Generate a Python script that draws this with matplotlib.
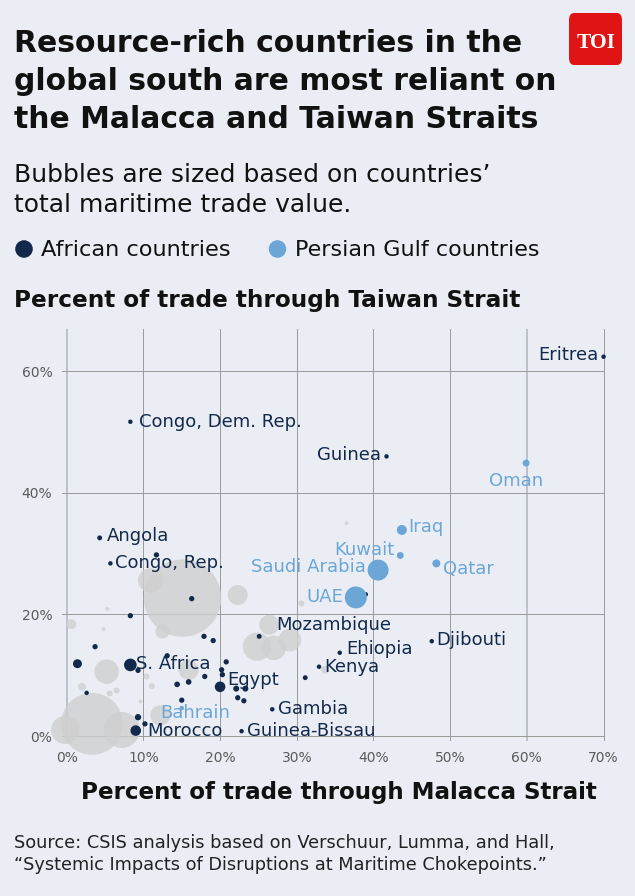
import numpy as np
import matplotlib.pyplot as plt
from matplotlib.patches import FancyBboxPatch

# Datos: (% Malaca, % Taiwán, valor relativo del comercio)
african_names = ["Eritrea", "Congo, Dem. Rep.", "Guinea", "Angola", "Congo, Rep.",
                 "Mozambique", "Djibouti", "Ehiopia", "Kenya", "S. Africa", "Egypt",
                 "Gambia", "Guinea-Bissau", "Morocco"]
african_x = [70.0, 8.3, 41.7, 4.3, 5.7, 25.1, 47.6, 35.6, 32.9, 8.3, 20.0, 26.8, 22.8, 9.0]
african_y = [62.4, 51.7, 46.0, 32.6, 28.4, 16.4, 15.6, 13.7, 11.4, 11.7, 8.1, 4.4, 0.8, 0.9]
african_val = [5, 5, 5, 6, 5, 6, 5, 5, 5, 40, 28, 5, 5, 28]

# países africanos sin etiqueta
other_af_x = [39.0, 11.7, 16.3, 8.3, 17.9, 19.1, 3.7, 1.4, 13.1, 9.3, 20.8, 20.2, 20.3,
              18.0, 14.4, 15.9, 2.6, 15.0, 9.3, 10.2, 22.1, 23.3, 22.3, 23.1, 31.1]
other_af_y = [23.3, 29.8, 22.6, 19.8, 16.4, 15.7, 14.7, 11.9, 13.2, 10.8, 12.2, 10.9, 10.1,
              9.8, 8.5, 8.9, 7.1, 5.9, 3.1, 2.0, 7.8, 7.8, 6.3, 5.8, 9.6]
other_af_val = [5, 7, 7, 7, 7, 7, 7, 20, 7, 7, 7, 7, 7,
                7, 8, 8, 5, 7, 10, 7, 9, 9, 7, 7, 6]

gulf_names = ["Oman", "Iraq", "Kuwait", "Qatar", "Saudi Arabia", "UAE", "Bahrain"]
gulf_x = [59.9, 43.7, 43.5, 48.2, 40.6, 37.7, 15.0]
gulf_y = [44.9, 33.9, 29.7, 28.4, 27.3, 22.8, 4.6]
gulf_val = [12, 25, 12, 16, 110, 121, 5]

# resto del mundo (burbujas grises)
rest_x = [15.1, 10.9, 22.3, 3.3, -0.2, 7.2, 5.2, 12.5, 24.8, 27.0, 26.4, 29.1,
          5.3, 4.8, 0.6, 2.0, 6.5, 5.6, 10.4, 11.1, 9.6, 12.2, 33.7, 36.5, 30.6, 15.9]
rest_y = [22.7, 25.6, 23.2, 2.0, 1.0, 1.0, 10.6, 17.2, 14.7, 14.5, 18.3, 15.8,
          20.9, 17.6, 18.4, 8.1, 7.5, 7.0, 9.8, 8.2, 5.7, 3.4, 10.9, 35.0, 21.8, 10.9]
rest_val = [1500, 150, 100, 960, 200, 324, 150, 50, 200, 150, 100, 130,
            4, 4, 25, 16, 9, 9, 9, 9, 4, 100, 16, 4, 9, 100]

x_ticks = [0, 10, 20, 30, 40, 50, 60, 70]
y_ticks = [0, 20, 40, 60]

title_lines = ["Resource-rich countries in the",
               "global south are most reliant on",
               "the Malacca and Taiwan Straits"]
subtitle_lines = ["Bubbles are sized based on countries’",
                  "total maritime trade value."]
source_lines = ["Source: CSIS analysis based on Verschuur, Lumma, and Hall,",
                "“Systemic Impacts of Disruptions at Maritime Chokepoints.”"]

navy = "#13294b"
blue = "#6ca6d6"
bg = "#eaeef4"
ink = "#111111"

af_offsets = {"Eritrea": (-3.5, 1, "right"), "Congo, Dem. Rep.": (6.5, 0, "left"),
              "Guinea": (-4, 1, "right"), "Angola": (5, 1, "left"),
              "Congo, Rep.": (3.5, 0, "left"), "Mozambique": (12, 8, "left"),
              "Djibouti": (3, 1, "left"), "Ehiopia": (5, 3, "left"),
              "Kenya": (4, 0, "left"), "S. Africa": (4, 1, "left"),
              "Egypt": (5, 5, "left"), "Gambia": (4.5, 0, "left"),
              "Guinea-Bissau": (4, 0, "left"), "Morocco": (8, 0, "left")}
gulf_offsets = {"Oman": (-7, -13, "center"), "Iraq": (4.5, 2, "left"),
                "Kuwait": (-4, 4, "right"), "Qatar": (5, -4, "left"),
                "Saudi Arabia": (-9, 2, "right"), "UAE": (-9, 0, "right"),
                "Bahrain": (10, -3.3, "center")}

plt.rcParams['font.family'] = ['DejaVu Sans']

fig = plt.figure(figsize=(6.35, 8.96), dpi=100)
fig.patch.set_facecolor(bg)

def sz(v):
    return np.array(v) * (2 / 1.389) ** 2

def fy(px):
    return 1 - px / 896

ax = fig.add_axes([0.0978, 0.1731, 0.8551, 0.4600])
ax.set_facecolor(bg)
ax.set_xlim(-0.6, 70.2)
ax.set_ylim(-0.8, 67)
ax.set_xticks(x_ticks)
ax.set_yticks(y_ticks)
ax.set_xticklabels([f"{t}%" for t in x_ticks])
ax.set_yticklabels([f"{t}%" for t in y_ticks])
ax.tick_params(length=0, labelsize=10, labelcolor="#5a5a5a", pad=7)
ax.grid(True, color="#9a9a9a", lw=0.7)
ax.set_axisbelow(True)
for s in ax.spines.values():
    s.set_visible(False)
# las líneas de 0% y 60% en x se ven más claras y gruesas
for i in (0, 6):
    gl = ax.get_xgridlines()[i]
    gl.set_color("#b8bec8")
    gl.set_linewidth(1.3)

ax.scatter(rest_x, rest_y, s=sz(rest_val), color="#cfcfcf", alpha=0.8,
           lw=0, clip_on=False, zorder=2)
ax.scatter(other_af_x, other_af_y, s=sz(other_af_val), color=navy, lw=0,
           clip_on=False, zorder=3)
ax.scatter(african_x, african_y, s=sz(african_val), color=navy, lw=0,
           clip_on=False, zorder=3)
ax.scatter(gulf_x, gulf_y, s=sz(gulf_val), color=blue, lw=0,
           clip_on=False, zorder=4)

for n, x, y in zip(african_names, african_x, african_y):
    dx, dy, ha = af_offsets[n]
    ax.annotate(n, (x, y), xytext=(dx, dy), textcoords="offset points",
                ha=ha, va="center", fontsize=13, color=navy,
                zorder=5, annotation_clip=False)
for n, x, y in zip(gulf_names, gulf_x, gulf_y):
    dx, dy, ha = gulf_offsets[n]
    ax.annotate(n, (x, y), xytext=(dx, dy), textcoords="offset points",
                ha=ha, va="center", fontsize=13, color=blue,
                zorder=5, annotation_clip=False)

# Textos
for line, px in zip(title_lines, [52, 90, 128]):
    fig.text(0.022, fy(px), line, ha="left", va="baseline", fontsize=21.5,
             fontweight="bold", color=ink)
for line, px in zip(subtitle_lines, [181.7, 211.7]):
    fig.text(0.022, fy(px), line, ha="left", va="baseline", fontsize=18, color=ink)
fig.text(0.022, fy(306.7), "Percent of trade through Taiwan Strait",
         ha="left", va="baseline", fontsize=16.7, fontweight="bold", color=ink)
fig.text(0.1276, fy(799), "Percent of trade through Malacca Strait",
         ha="left", va="baseline", fontsize=16.6, fontweight="bold", color=ink)
for line, px in zip(source_lines, [848.3, 870]):
    fig.text(0.022, fy(px), line, ha="left", va="baseline", fontsize=12.8,
             color="#222222")

# Leyenda
ax.scatter([24 / 635, 277.5 / 635], [fy(249), fy(249)], s=160, color=[navy, blue],
           lw=0, transform=fig.transFigure, clip_on=False)
fig.text(40.7 / 635, fy(256), "African countries", ha="left", va="baseline",
         fontsize=16.2, color=ink)
fig.text(295 / 635, fy(256), "Persian Gulf countries", ha="left", va="baseline",
         fontsize=16, color=ink)

# Logo TOI
logo = FancyBboxPatch((569 / 635, fy(65)), 53 / 635, 52 / 896,
                      boxstyle="round,pad=0,rounding_size=0.008",
                      transform=fig.transFigure, facecolor="#e01414", edgecolor="none")
fig.patches.append(logo)
fig.text(596 / 635, fy(48), "TOI", ha="center", va="baseline", fontsize=15.5,
         fontweight="bold", color="white", family=["Liberation Serif", "DejaVu Serif"])

fig.savefig("out.png", dpi=100, facecolor=bg)
